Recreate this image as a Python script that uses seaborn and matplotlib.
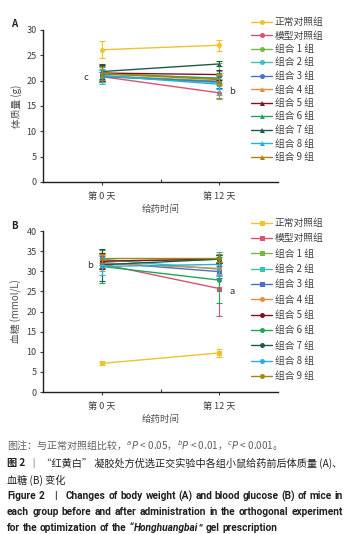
import pandas as pd
import matplotlib
matplotlib.use('Agg')
import matplotlib.pyplot as plt
import seaborn as sns

# 分组与颜色
groups = ['正常对照组', '模型对照组', '组合 1 组', '组合 2 组', '组合 3 组', '组合 4 组',
          '组合 5 组', '组合 6 组', '组合 7 组', '组合 8 组', '组合 9 组']
colors = ['#F2C12E', '#D9546E', '#77B843', '#3EBFB5', '#4A72C4', '#E88C3A',
          '#7B1325', '#22A55A', '#1D5C4D', '#25B0E0', '#A8860E']
day_labels = ['第 0 天', '第 12 天']

# A: 体质量 (g)
weight_d0 = [26.1, 20.8, 21.0, 20.9, 20.8, 21.5, 21.5, 21.3, 21.8, 21.0, 21.4]
weight_d12 = [27.0, 17.6, 19.9, 19.6, 19.8, 20.4, 21.2, 20.5, 23.3, 19.3, 20.2]
weight_err0 = [1.7, 1.0, 1.2, 1.5, 1.0, 1.3, 1.5, 1.5, 1.5, 1.2, 1.3]
weight_err12 = [1.1, 1.0, 3.5, 2.4, 1.2, 1.0, 1.0, 1.0, 0.5, 1.0, 1.0]

# B: 血糖 (mmol/L)
glu_d0 = [7.1, 31.8, 32.5, 33.0, 32.2, 32.0, 32.5, 31.2, 31.6, 31.2, 33.2]
glu_d12 = [9.7, 25.7, 33.0, 30.5, 29.9, 30.7, 33.0, 27.8, 33.0, 31.7, 33.2]
glu_err0 = [0.3, 1.0, 2.0, 1.5, 1.5, 2.0, 2.0, 4.2, 3.9, 2.2, 1.2]
glu_err12 = [1.0, 6.7, 1.0, 1.5, 1.5, 1.5, 1.0, 5.7, 1.0, 3.0, 1.0]

sns.set_style('ticks')
plt.rcParams['font.family'] = ['Noto Sans CJK SC', 'DejaVu Sans']
plt.rcParams['axes.unicode_minus'] = False

W, H = 348, 534
fig = plt.figure(figsize=(W / 100, H / 100), dpi=100)


def px_axes(left, top, right, bottom):
    return fig.add_axes([left / W, 1 - bottom / H, (right - left) / W, (bottom - top) / H])


def draw_panel(ax, d0, d12, e0, e12, markers, ylabel, ymax, leg_top, leg_space):
    df = pd.DataFrame({
        'group': groups * 2,
        'day': [0] * len(groups) + [1] * len(groups),
        'value': d0 + d12,
    })
    pal = dict(zip(groups, colors))
    mk = dict(zip(groups, markers))
    sns.lineplot(data=df, x='day', y='value', hue='group', style='group',
                 hue_order=groups, style_order=groups, palette=pal, markers=mk,
                 dashes=False, errorbar=None, linewidth=1.0, markersize=3.6,
                 markeredgewidth=0, ax=ax)
    for i, g in enumerate(groups):
        ax.errorbar([0, 1], [d0[i], d12[i]], yerr=[e0[i], e12[i]], fmt='none',
                    ecolor=colors[i], elinewidth=0.8, capsize=2, capthick=0.8)
    ax.set_xlim(-0.5, 1.5)
    ax.set_ylim(0, ymax)
    ax.set_yticks(range(0, ymax + 1, 5))
    ax.set_xticks([0, 1])
    ax.set_xticklabels(day_labels)
    ax.set_xticks([0.5], minor=True)
    ax.tick_params(axis='x', which='major', length=2, width=0.8, pad=5,
                   labelsize=6.6, labelcolor='#404040', color='#404040')
    ax.tick_params(axis='x', which='minor', length=2, width=0.8, direction='in', color='#404040')
    ax.tick_params(axis='y', length=2.5, width=0.8, pad=2, labelsize=6.5,
                   labelcolor='#404040', color='#404040')
    ax.set_xlabel('给药时间', fontsize=6.8, color='#505050', labelpad=3)
    ax.set_ylabel(ylabel, fontsize=7, color='#505050', labelpad=3)
    for s in ['top', 'right']:
        ax.spines[s].set_visible(False)
    for s in ['left', 'bottom']:
        ax.spines[s].set_linewidth(1.0)
        ax.spines[s].set_color('#202020')
    sns.move_legend(ax, 'upper left', bbox_to_anchor=(251 / W, 1 - leg_top / H),
                    bbox_transform=fig.transFigure, frameon=False, title=None,
                    fontsize=7, labelspacing=leg_space, handlelength=2.2,
                    handletextpad=0.25, borderaxespad=0, borderpad=0)
    for t in ax.get_legend().get_texts():
        t.set_color('#404040')


axA = px_axes(43, 30, 278, 182)
draw_panel(axA, weight_d0, weight_d12, weight_err0, weight_err12,
           ['o'] * 5 + ['^'] * 6, '体质量 (g)', 30, 17, 0.36)
fig.text(86 / W, 1 - 77 / H, 'c', fontsize=6.8, color='#303030', ha='center', va='center')
fig.text(232 / W, 1 - 91 / H, 'b', fontsize=6.8, color='#303030', ha='center', va='center')
fig.text(14 / W, 1 - 24 / H, 'A', fontsize=7, fontweight='bold', ha='center', va='center')

axB = px_axes(43, 231, 278, 392)
draw_panel(axB, glu_d0, glu_d12, glu_err0, glu_err12,
           ['s'] * 5 + ['o'] * 6, '血糖 (mmol/L)', 40, 218, 0.55)
fig.text(90 / W, 1 - 265 / H, 'b', fontsize=6.8, color='#303030', ha='center', va='center')
fig.text(232 / W, 1 - 291 / H, 'a', fontsize=6.8, color='#303030', ha='center', va='center')
fig.text(14 / W, 1 - 226 / H, 'B', fontsize=7, fontweight='bold', ha='center', va='center')

# 图注
fig.text(7 / W, 1 - 446 / H, r'图注：与正常对照组比较，$^{a}P$ < 0.05，$^{b}P$ < 0.01，$^{c}P$ < 0.001。',
         fontsize=7.2, color='#606060', va='center')
fig.text(7 / W, 1 - 463 / H, '图 2', fontsize=7.3, fontweight='bold', color='#202020', va='center')
fig.text(29 / W, 1 - 463 / H, '｜ “红黄白” 凝胶处方优选正交实验中各组小鼠给药前后体质量 (A)、',
         fontsize=7.3, color='#202020', va='center')
fig.text(7 / W, 1 - 480 / H, '血糖 (B) 变化', fontsize=7.3, color='#202020', va='center')

renderer = fig.canvas.get_renderer()
en_font = ['Roboto', 'DejaVu Sans']
line4 = ['Figure', '2', '|', 'Changes', 'of', 'body', 'weight', '(A)', 'and', 'blood',
         'glucose', '(B)', 'of', 'mice', 'in']
line5 = 'each group before and after administration in the orthogonal experiment'.split(' ')
# 最后一行: (文字, 斜体?, 后面是否有空格)
line6 = [('for', False, True), ('the', False, True), ('optimization', False, True),
         ('of', False, True), ('the', False, True), ('“', False, False),
         ('Honghuangbai', True, False), ('”', False, True), ('gel', False, True),
         ('prescription', False, False)]


def word_width(w, fs, italic=False):
    t = fig.text(0, 0, w, fontsize=fs, fontweight='bold', family=en_font,
                 style='italic' if italic else 'normal')
    wd = t.get_window_extent(renderer).width
    t.remove()
    return wd


SPACE = 0.27  # 空格宽度 (em)
w10 = sum(word_width(w, 10) for w in line5)
en_fs = 334 / (w10 / 10 + (len(line5) - 1) * SPACE * 10 / 72 * 100 / 10)


def justify(words, y, x0=7, x1=343, extra=None):
    # extra: 某个词后面额外加宽的间距 (px)
    extra = extra or {}
    arts = [fig.text(0, 1 - y / H, w, fontsize=en_fs, fontweight='bold', color='#202020',
                     va='center', family=en_font) for w in words]
    widths = [a.get_window_extent(renderer).width for a in arts]
    gap = (x1 - x0 - sum(widths) - sum(extra.values())) / (len(words) - 1)
    x = x0
    for i, (a, w) in enumerate(zip(arts, widths)):
        a.set_x(x / W)
        x += w + gap + extra.get(i, 0)


justify(line4, 496, extra={1: 7, 2: 7})
justify(line5, 512)

space_px = SPACE * en_fs * 100 / 72
x = 7
for txt, it, sp in line6:
    a = fig.text(x / W, 1 - 528 / H, txt, fontsize=en_fs, fontweight='bold',
                 style='italic' if it else 'normal', color='#202020', va='center',
                 family=en_font)
    x += a.get_window_extent(renderer).width + (space_px if sp else 0.3)

fig.savefig('out.png', dpi=100)
